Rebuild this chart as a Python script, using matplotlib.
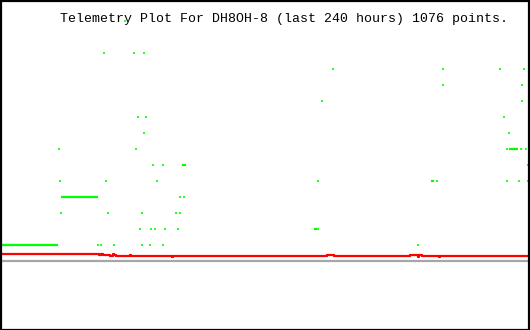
import matplotlib
matplotlib.use('Agg')
import matplotlib.pyplot as plt
from matplotlib.patches import Rectangle

# Titulo do grafico
titulo = 'Telemetry Plot For DH8OH-8 (last 240 hours) 1076 points.'

# Canal digital (verde): pontos isolados, hora e nivel
verde_horas = [56.4, 198.6,
               47.3, 60.9, 65.4,
               150.6, 200.4, 226.6, 237.1,
               200.8, 236.2,
               146.0, 236.6,
               62.3, 66.3, 228.0,
               65.0, 230.3,
               26.5, 61.8, 229.4, 235.7, 238.4,
               69.5, 74.0, 238.9,
               27.0, 47.8, 70.9, 144.2, 198.1, 229.8, 234.8, 239.3,
               81.7, 83.1,
               27.4, 48.7, 64.5, 79.9, 81.3,
               63.6, 68.6, 70.0, 74.5, 80.4, 143.8,
               44.6, 45.9, 51.4, 64.1, 67.7, 73.6, 189.1]
verde_niveis = [15, 15,
                13, 13, 13,
                12, 12, 12, 12,
                11, 11,
                10, 10,
                9, 9, 9,
                8, 8,
                7, 7, 7, 7, 7,
                6, 6, 6,
                5, 5, 5, 5, 5, 5, 5, 5,
                4, 4,
                3, 3, 3, 3, 3,
                2, 2, 2, 2, 2, 2,
                1, 1, 1, 1, 1, 1, 1]

# Trechos continuos do canal verde
trecho_inicio = [0.5, 27.6, 230.6, 82.4, 195.2, 142.2]
trecho_fim = [26.3, 44.2, 234.6, 84.2, 196.5, 143.5]
trecho_nivel = [1, 4, 7, 6, 5, 2]

# Canal analogico (vermelho)
vermelho_horas = [0, 44.8, 45.7, 46.6, 49.8, 51.2, 51.6, 52.5, 58.9, 59.3,
                  77.9, 78.3, 148.1, 151.2, 185.7, 189.3, 189.7, 191.1,
                  198.8, 199.2, 240]
vermelho_valores = [0.44, 0.375, 0.44, 0.375, 0.31, 0.44, 0.375, 0.31, 0.375, 0.31,
                    0.25, 0.31, 0.375, 0.31, 0.375, 0.25, 0.375, 0.31,
                    0.25, 0.31, 0.31]

# Figura com o eixo ocupando toda a area
fig = plt.figure(figsize=(5.3, 3.3), dpi=100)
ax = fig.add_axes([0, 0, 1, 1])
ax.set_xlim(0, 240)
ax.set_ylim(-4.3125, 16.3125)
ax.axis('off')

# Linha de base cinza
ax.axhline(0, color='#a6a6a6', lw=1.6)

# Canal vermelho em degraus
ax.plot(vermelho_horas, vermelho_valores, color='#ff0000', lw=1.6,
        drawstyle='steps-post')

# Canal verde
ax.hlines(trecho_nivel, trecho_inicio, trecho_fim, color='#00ff00', lw=1.6)
ax.plot(verde_horas, verde_niveis, linestyle='none', marker='|',
        ms=1.8, mew=1.2, color='#00ff00')

# Titulo em fonte monoespacada
fig.text(60 / 530, 1 - 22 / 330, titulo, family='Liberation Mono',
         fontsize=9.5, color='black', ha='left', va='baseline')

# Moldura preta
fig.patches.append(Rectangle((0.5 / 530, 0.5 / 330), 528.5 / 530, 329 / 330,
                             transform=fig.transFigure, fill=False,
                             edgecolor='black', lw=1.6))

plt.savefig('out.png', dpi=100)
